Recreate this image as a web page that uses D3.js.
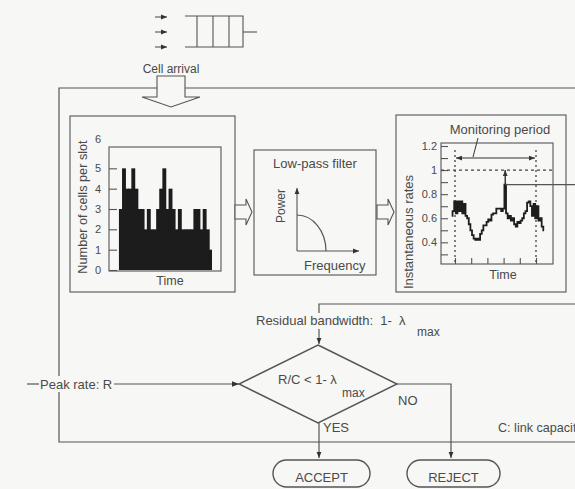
<!DOCTYPE html>
<html>
<head>
<meta charset="utf-8">
<script src="https://cdn.jsdelivr.net/npm/d3@7/dist/d3.min.js"></script>
<style>
  html, body { margin: 0; padding: 0; background: #f7f7f5; }
  svg { display: block; }
  text { font-family: "Liberation Sans", Arial, sans-serif; fill: #4a4a4a; }
</style>
</head>
<body>
<svg id="fig" width="575" height="489"></svg>
<script>
// Cells arriving in each slot (histogram panel)
const slotCounts = [3, 5, 4, 4, 5, 4, 3, 3, 2, 3, 2, 2, 3, 4, 5, 3, 4, 3, 2, 3, 2, 2, 2, 2, 3, 3, 2, 3, 2, 1];
const countTicks = [0, 1, 2, 3, 4, 5, 6];

// Low-pass filtered instantaneous rate, one sample every 0.1 time units starting at t = -0.2
const rateStart = -0.2;
const rateStep = 0.1;
const rateValues = [
  0.62, 0.66, 0.74, 0.64, 0.74, 0.66, 0.74, 0.64, 0.72, 0.62,
  0.60, 0.55, 0.50, 0.46, 0.43, 0.42, 0.43, 0.42, 0.47, 0.50,
  0.54, 0.54, 0.57, 0.59, 0.58, 0.63, 0.64, 0.64, 0.68, 0.68,
  0.68, 0.66, 0.68, 0.88, 0.64, 0.60, 0.62, 0.58, 0.60, 0.55,
  0.53, 0.57, 0.56, 0.58, 0.60, 0.64, 0.66, 0.73, 0.74, 0.70,
  0.62, 0.72, 0.60, 0.70, 0.58, 0.60, 0.53, 0.50
];
const rateMinorTicks = [0.3, 0.4, 0.5, 0.6, 0.7, 0.8, 0.9, 1.0, 1.1, 1.2];
const rateLabelTicks = [0.4, 0.6, 0.8, 1.0, 1.2];
const timeTicks = [0, 1, 2, 3, 4, 5];
const monitorStart = 0, monitorEnd = 5;
const rateLimit = 1.0;      // the dashed reference level
const monitorArrowLevel = 1.1;
const peakRate = d3.max(rateValues);

const ink = "#555";
const svg = d3.select("#fig");
const bg = "#f7f7f5";

// ---------- arrowhead markers ----------
const defs = svg.append("defs");
function marker(id, size) {
  defs.append("marker")
    .attr("id", id).attr("viewBox", "0 0 10 10")
    .attr("refX", 10).attr("refY", 5)
    .attr("markerWidth", size).attr("markerHeight", size)
    .attr("markerUnits", "userSpaceOnUse")
    .attr("orient", "auto-start-reverse")
    .append("path").attr("d", "M0,1 L10,5 L0,9 Z").attr("fill", "#333");
}
marker("ah", 7);
marker("ahs", 6);

// ---------- queue icon ----------
const q = svg.append("g").attr("stroke", ink).attr("stroke-width", 1.1).attr("fill", "none");
[17, 32, 47].forEach(y => {
  q.append("line").attr("x1", 155).attr("x2", 167).attr("y1", y).attr("y2", y)
    .attr("marker-end", "url(#ahs)");
});
q.append("path").attr("d", "M185,16 H243 V47 H185");
[197, 213, 229].forEach(x => q.append("line").attr("x1", x).attr("x2", x).attr("y1", 16).attr("y2", 47));
q.append("line").attr("x1", 243).attr("x2", 257).attr("y1", 32).attr("y2", 32);

svg.append("text").attr("x", 171).attr("y", 73).attr("text-anchor", "middle")
  .attr("font-size", 12).text("Cell arrival");

// ---------- outer system box (runs past the right edge) ----------
svg.append("path").attr("d", "M585,88 H59 V442 H585")
  .attr("fill", "none").attr("stroke", ink).attr("stroke-width", 1.2);

// hollow block arrow entering the box
svg.append("path")
  .attr("d", "M157,76 H185 V97 H200 L171,107 L142,97 H157 Z")
  .attr("fill", bg).attr("stroke", ink).attr("stroke-width", 1.1);

// ---------- panel 1: cells per slot ----------
svg.append("rect").attr("x", 70).attr("y", 116).attr("width", 165).attr("height", 176)
  .attr("fill", "none").attr("stroke", ink).attr("stroke-width", 1.1);

const xSlot = d3.scaleLinear().domain([-3.2, 32.9]).range([109, 221]);
const yCount = d3.scaleLinear().domain([0, 6]).range([270, 148]);

svg.append("g").selectAll("rect").data(slotCounts).join("rect")
  .attr("x", (d, i) => xSlot(i))
  .attr("width", (d, i) => xSlot(i + 1) - xSlot(i) + (i < slotCounts.length - 1 ? 0.8 : 0))
  .attr("y", d => yCount(d))
  .attr("height", d => yCount(0) - yCount(d))
  .attr("fill", "#1c1c1c");

svg.append("rect").attr("x", 109).attr("y", 147).attr("width", 112).attr("height", 124)
  .attr("fill", "none").attr("stroke", ink).attr("stroke-width", 1.1);

const countAxis = svg.append("g").attr("transform", "translate(109,0)")
  .call(d3.axisRight(yCount).tickValues(countTicks.slice(0, -1)).tickSize(8).tickFormat(""));
countAxis.select(".domain").remove();
countAxis.selectAll("line").attr("stroke", ink).attr("stroke-width", 1.1);
svg.append("g").selectAll("text").data(countTicks).join("text")
  .attr("x", 101).attr("y", d => yCount(d) + 4 - (d === 6 ? 9 : 0))
  .attr("text-anchor", "end").attr("font-size", 11).text(d => d);

svg.append("text").attr("transform", "translate(87,207) rotate(-90)")
  .attr("text-anchor", "middle").attr("font-size", 12.7).text("Number of cells per slot");
svg.append("text").attr("x", 170).attr("y", 285).attr("text-anchor", "middle")
  .attr("font-size", 12.5).text("Time");

// block arrows between panels
function blockArrow(x0) {
  svg.append("path")
    .attr("d", `M${x0},205 H${x0 + 11} V199 L${x0 + 17},212 L${x0 + 11},225 V219 H${x0} Z`)
    .attr("fill", bg).attr("stroke", ink).attr("stroke-width", 1.1);
}
blockArrow(235);
blockArrow(377);

// ---------- panel 2: low-pass filter ----------
svg.append("rect").attr("x", 254).attr("y", 150).attr("width", 122).attr("height", 125)
  .attr("fill", "none").attr("stroke", ink).attr("stroke-width", 1.1);
svg.append("text").attr("x", 315).attr("y", 168).attr("text-anchor", "middle")
  .attr("font-size", 13).text("Low-pass filter");
svg.append("line").attr("x1", 297).attr("y1", 251).attr("x2", 297).attr("y2", 188)
  .attr("stroke", ink).attr("stroke-width", 1.1).attr("marker-end", "url(#ahs)");
svg.append("line").attr("x1", 297).attr("y1", 251).attr("x2", 359).attr("y2", 251)
  .attr("stroke", ink).attr("stroke-width", 1.1).attr("marker-end", "url(#ahs)");
svg.append("path").attr("d", "M297,215 A29,36 0 0 1 326,251")
  .attr("fill", "none").attr("stroke", ink).attr("stroke-width", 1.2);
svg.append("text").attr("transform", "translate(285,206) rotate(-90)")
  .attr("text-anchor", "middle").attr("font-size", 12).text("Power");
svg.append("text").attr("x", 304).attr("y", 270).attr("font-size", 13).text("Frequency");

// ---------- panel 3: instantaneous rates ----------
svg.append("rect").attr("x", 396).attr("y", 115).attr("width", 170).attr("height", 177)
  .attr("fill", "none").attr("stroke", ink).attr("stroke-width", 1.1);

const xTime = d3.scaleLinear().domain([0, 5]).range([455, 536]);
const yRate = d3.scaleLinear().domain([0.22, 1.225]).range([264, 143]);

svg.append("rect").attr("x", 441).attr("y", 143).attr("width", 112).attr("height", 121)
  .attr("fill", "none").attr("stroke", ink).attr("stroke-width", 1.1);

const rAxis = svg.append("g").attr("transform", "translate(441,0)")
  .call(d3.axisRight(yRate).tickValues(rateMinorTicks).tickSize(7).tickFormat(""));
rAxis.select(".domain").remove();
rAxis.selectAll("line").attr("stroke", ink).attr("stroke-width", 1.1);
svg.append("g").selectAll("text").data(rateLabelTicks).join("text")
  .attr("x", 437).attr("y", d => yRate(d) + 4)
  .attr("text-anchor", "end").attr("font-size", 11)
  .text(d => d3.format("~g")(d));

const tAxis = svg.append("g").attr("transform", "translate(0,264)")
  .call(d3.axisTop(xTime).tickValues(timeTicks).tickSize(6).tickFormat(""));
tAxis.select(".domain").remove();
tAxis.selectAll("line").attr("stroke", ink).attr("stroke-width", 1.1);

// monitoring window edges and the rate limit
[monitorStart, monitorEnd].forEach(t => {
  svg.append("line").attr("x1", xTime(t)).attr("x2", xTime(t))
    .attr("y1", 150).attr("y2", 264)
    .attr("stroke", "#444").attr("stroke-width", 1.3).attr("stroke-dasharray", "2,3");
});
svg.append("line").attr("x1", 441).attr("x2", 553)
  .attr("y1", yRate(rateLimit)).attr("y2", yRate(rateLimit))
  .attr("stroke", "#444").attr("stroke-width", 1.2).attr("stroke-dasharray", "3,3");

// rate trace
const rateLine = d3.line()
  .x((d, i) => xTime(rateStart + i * rateStep))
  .y(d => yRate(d))
  .curve(d3.curveStep);
svg.append("path").datum(rateValues).attr("d", rateLine)
  .attr("fill", "none").attr("stroke", "#1e1e1e").attr("stroke-width", 1.8);

// monitoring period arrow and its label
svg.append("line").attr("x1", xTime(monitorStart) + 1).attr("x2", xTime(monitorEnd) - 1)
  .attr("y1", yRate(monitorArrowLevel)).attr("y2", yRate(monitorArrowLevel))
  .attr("stroke", "#333").attr("stroke-width", 1.1)
  .attr("marker-start", "url(#ahs)").attr("marker-end", "url(#ahs)");
svg.append("line").attr("x1", 478).attr("y1", 138).attr("x2", 473).attr("y2", yRate(monitorArrowLevel) - 1)
  .attr("stroke", "#333").attr("stroke-width", 1);
svg.append("text").attr("x", 500).attr("y", 134).attr("text-anchor", "middle")
  .attr("font-size", 13).text("Monitoring period");

// peak marker: arrow from the peak up to the limit, and the line carrying it out
const peakIndex = rateValues.indexOf(peakRate);
const peakX = xTime(rateStart + peakIndex * rateStep);
svg.append("line").attr("x1", peakX).attr("x2", peakX)
  .attr("y1", yRate(peakRate)).attr("y2", yRate(rateLimit))
  .attr("stroke", "#222").attr("stroke-width", 1.3).attr("marker-end", "url(#ahs)");
svg.append("line").attr("x1", peakX).attr("x2", 580)
  .attr("y1", yRate(peakRate)).attr("y2", yRate(peakRate))
  .attr("stroke", ink).attr("stroke-width", 1.2);

svg.append("text").attr("transform", "translate(413,232) rotate(-90)")
  .attr("text-anchor", "middle").attr("font-size", 13).text("Instantaneous rates");
svg.append("text").attr("x", 503).attr("y", 279).attr("text-anchor", "middle")
  .attr("font-size", 12.5).text("Time");

// ---------- decision flow ----------
svg.append("path").attr("d", "M580,304 H319 V313")
  .attr("fill", "none").attr("stroke", ink).attr("stroke-width", 1.2);
svg.append("line").attr("x1", 319).attr("x2", 319).attr("y1", 329).attr("y2", 344)
  .attr("stroke", ink).attr("stroke-width", 1.2).attr("marker-end", "url(#ahs)");
svg.append("text").attr("x", 256).attr("y", 325).attr("font-size", 13)
  .attr("xml:space", "preserve").text("Residual bandwidth:  1-  \u03bb");
svg.append("text").attr("x", 417).attr("y", 336).attr("font-size", 12).text("max");

// peak rate input
svg.append("line").attr("x1", 27).attr("x2", 39).attr("y1", 384).attr("y2", 384)
  .attr("stroke", ink).attr("stroke-width", 1.2);
svg.append("rect").attr("x", 40).attr("y", 376).attr("width", 73).attr("height", 16).attr("fill", bg);
svg.append("text").attr("x", 40).attr("y", 389).attr("font-size", 13).text("Peak rate: R");
svg.append("line").attr("x1", 114).attr("x2", 239).attr("y1", 384).attr("y2", 384)
  .attr("stroke", ink).attr("stroke-width", 1.2).attr("marker-end", "url(#ah)");

// decision diamond
svg.append("path").attr("d", "M318,345 L397,384 L318,423 L239,384 Z")
  .attr("fill", "none").attr("stroke", ink).attr("stroke-width", 1.4);
svg.append("text").attr("x", 278).attr("y", 384).attr("font-size", 13)
  .attr("xml:space", "preserve").text("R/C < 1- \u03bb");
svg.append("text").attr("x", 342).attr("y", 397).attr("font-size", 12).text("max");

// NO branch
svg.append("path").attr("d", "M397,384 H451 V458")
  .attr("fill", "none").attr("stroke", ink).attr("stroke-width", 1.2).attr("marker-end", "url(#ahs)");
svg.append("text").attr("x", 398).attr("y", 405).attr("font-size", 13).text("NO");

// YES branch
svg.append("line").attr("x1", 319).attr("x2", 319).attr("y1", 423).attr("y2", 458)
  .attr("stroke", ink).attr("stroke-width", 1.2).attr("marker-end", "url(#ahs)");
svg.append("text").attr("x", 323).attr("y", 432).attr("font-size", 13).text("YES");

// note on the right, running off the edge of the box
svg.append("text").attr("x", 498).attr("y", 432).attr("font-size", 12.6).text("C: link capacity");

// terminals
[["ACCEPT", 273, 370], ["REJECT", 407, 500]].forEach(([label, x0, x1]) => {
  svg.append("rect").attr("x", x0).attr("y", 460).attr("width", x1 - x0).attr("height", 27)
    .attr("rx", 13.5).attr("ry", 13.5)
    .attr("fill", "none").attr("stroke", ink).attr("stroke-width", 1.4);
  svg.append("text").attr("x", (x0 + x1) / 2).attr("y", 482).attr("text-anchor", "middle")
    .attr("font-size", 13).text(label);
});
</script>
</body>
</html>
